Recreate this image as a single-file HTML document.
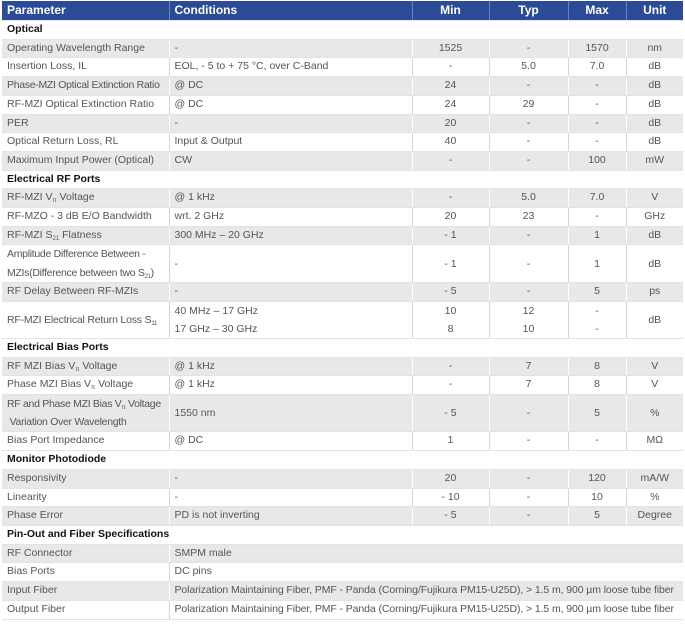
<!DOCTYPE html>
<html><head><meta charset="utf-8"><style>
body{margin:0;background:#fff;width:685px;height:628px;overflow:hidden}
table{position:absolute;left:2px;top:1px;width:681px;border-collapse:collapse;table-layout:fixed;font-family:"Liberation Sans",sans-serif;font-size:10.5px;color:#555}
td,th{padding:0 0 0 5px;height:17.7px;line-height:17.7px;white-space:nowrap;overflow:visible;border-bottom:1px solid #e3e3e3}
th{background:#2b4b96;color:#fff;font-weight:bold;font-size:12px;height:19px;line-height:19px;text-align:left;border-left:1px solid #6a82b8}
th:first-child{border-left:none}
th.c{text-align:center;padding:0}
td{border-left:1px solid #d6d6d6}
td:first-child{border-left:none}
tr.g td{background:#e8e8e8;border-left-color:#fff}
td.c{text-align:center;padding:0}
tr.s td{font-weight:bold;color:#111;border-left:none}
td.two{height:36.4px;line-height:18.2px}
sub{font-size:6px;vertical-align:-2px;line-height:0}
.f{font-size:10.5px;letter-spacing:-0.1px}
</style></head><body>
<table>
<colgroup><col style="width:167px"><col style="width:243px"><col style="width:77px"><col style="width:79px"><col style="width:58px"><col style="width:57px"></colgroup>
<tr><th>Parameter</th><th>Conditions</th><th class="c">Min</th><th class="c">Typ</th><th class="c">Max</th><th class="c">Unit</th></tr>
<tr class="s"><td colspan="6">Optical</td></tr>
<tr class="g"><td>Operating Wavelength Range</td><td>-</td><td class="c">1525</td><td class="c">-</td><td class="c">1570</td><td class="c">nm</td></tr>
<tr><td>Insertion Loss, IL</td><td>EOL, - 5 to + 75 °C, over C-Band</td><td class="c">-</td><td class="c">5.0</td><td class="c">7.0</td><td class="c">dB</td></tr>
<tr class="g"><td style="letter-spacing:-0.3px">Phase-MZI Optical Extinction Ratio</td><td>@ DC</td><td class="c">24</td><td class="c">-</td><td class="c">-</td><td class="c">dB</td></tr>
<tr><td>RF-MZI Optical Extinction Ratio</td><td>@ DC</td><td class="c">24</td><td class="c">29</td><td class="c">-</td><td class="c">dB</td></tr>
<tr class="g"><td>PER</td><td>-</td><td class="c">20</td><td class="c">-</td><td class="c">-</td><td class="c">dB</td></tr>
<tr><td>Optical Return Loss, RL</td><td>Input &amp; Output</td><td class="c">40</td><td class="c">-</td><td class="c">-</td><td class="c">dB</td></tr>
<tr class="g"><td>Maximum Input Power (Optical)</td><td>CW</td><td class="c">-</td><td class="c">-</td><td class="c">100</td><td class="c">mW</td></tr>
<tr class="s"><td colspan="6">Electrical RF Ports</td></tr>
<tr class="g"><td>RF-MZI V<sub>π</sub> Voltage</td><td>@ 1 kHz</td><td class="c">-</td><td class="c">5.0</td><td class="c">7.0</td><td class="c">V</td></tr>
<tr><td>RF-MZO - 3 dB E/O Bandwidth</td><td>wrt. 2 GHz</td><td class="c">20</td><td class="c">23</td><td class="c">-</td><td class="c">GHz</td></tr>
<tr class="g"><td>RF-MZI S<sub>21</sub> Flatness</td><td>300 MHz – 20 GHz</td><td class="c">- 1</td><td class="c">-</td><td class="c">1</td><td class="c">dB</td></tr>
<tr><td class="two" style="letter-spacing:-0.3px">Amplitude Difference Between -<br>MZIs(Difference between two S<sub>21</sub>)</td><td class="two">-</td><td class="c two">- 1</td><td class="c two">-</td><td class="c two">1</td><td class="c two">dB</td></tr>
<tr class="g"><td>RF Delay Between RF-MZIs</td><td>-</td><td class="c">- 5</td><td class="c">-</td><td class="c">5</td><td class="c">ps</td></tr>
<tr><td class="two" style="letter-spacing:-0.2px">RF-MZI Electrical Return Loss S<sub>11</sub></td><td class="two">40 MHz – 17 GHz<br>17 GHz – 30 GHz</td><td class="c two">10<br>8</td><td class="c two">12<br>10</td><td class="c two">-<br>-</td><td class="c two">dB</td></tr>
<tr class="s"><td colspan="6">Electrical Bias Ports</td></tr>
<tr class="g"><td>RF MZI Bias V<sub>π</sub> Voltage</td><td>@ 1 kHz</td><td class="c">-</td><td class="c">7</td><td class="c">8</td><td class="c">V</td></tr>
<tr><td>Phase MZI Bias V<sub>π</sub> Voltage</td><td>@ 1 kHz</td><td class="c">-</td><td class="c">7</td><td class="c">8</td><td class="c">V</td></tr>
<tr class="g"><td class="two" style="letter-spacing:-0.3px">RF and Phase MZI Bias V<sub>π</sub> Voltage<br>&nbsp;Variation Over Wavelength</td><td class="two">1550 nm</td><td class="c two">- 5</td><td class="c two">-</td><td class="c two">5</td><td class="c two">%</td></tr>
<tr><td>Bias Port Impedance</td><td>@ DC</td><td class="c">1</td><td class="c">-</td><td class="c">-</td><td class="c">MΩ</td></tr>
<tr class="s"><td colspan="6">Monitor Photodiode</td></tr>
<tr class="g"><td>Responsivity</td><td>-</td><td class="c">20</td><td class="c">-</td><td class="c">120</td><td class="c">mA/W</td></tr>
<tr><td>Linearity</td><td>-</td><td class="c">- 10</td><td class="c">-</td><td class="c">10</td><td class="c">%</td></tr>
<tr class="g"><td>Phase Error</td><td>PD is not inverting</td><td class="c">- 5</td><td class="c">-</td><td class="c">5</td><td class="c">Degree</td></tr>
<tr class="s"><td colspan="6">Pin-Out and Fiber Specifications</td></tr>
<tr class="g"><td>RF Connector</td><td colspan="5">SMPM male</td></tr>
<tr><td>Bias Ports</td><td colspan="5">DC pins</td></tr>
<tr class="g"><td>Input Fiber</td><td colspan="5" class="f">Polarization Maintaining Fiber, PMF - Panda (Corning/Fujikura PM15-U25D), &gt; 1.5 m, 900 µm loose tube fiber</td></tr>
<tr><td>Output Fiber</td><td colspan="5" class="f">Polarization Maintaining Fiber, PMF - Panda (Corning/Fujikura PM15-U25D), &gt; 1.5 m, 900 µm loose tube fiber</td></tr>
</table>
</body></html>
